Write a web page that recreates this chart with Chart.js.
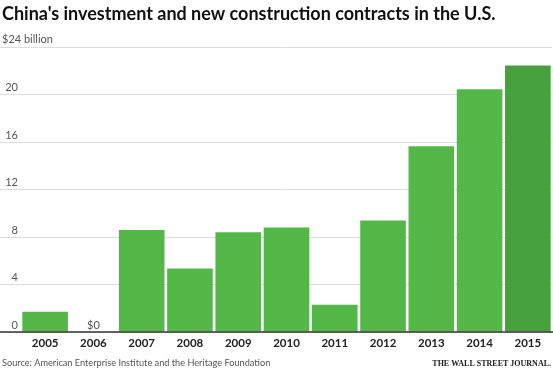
<!DOCTYPE html>
<html>
<head>
<meta charset="utf-8">
<script src="https://cdn.jsdelivr.net/npm/chart.js@4"></script>
<style>
  body { margin: 0; background: #fff; }
  canvas { display: block; }
</style>
</head>
<body>
<canvas id="graph" width="553" height="371"></canvas>
<script>
// China's investment in the U.S., $ billion
const years = ['2005', '2006', '2007', '2008', '2009', '2010', '2011', '2012', '2013', '2014', '2015'];
const investment = [1.7, 0, 8.6, 5.35, 8.4, 8.8, 2.3, 9.4, 15.65, 20.45, 22.45];
const yTicks = [0, 4, 8, 12, 16, 20, 24];

const titleText = "China's investment and new construction contracts in the U.S.";
const unitText = '$24 billion';
const sourceText = 'Source: American Enterprise Institute and the Heritage Foundation';
const brandText = 'THE WALL STREET JOURNAL.';

const green = '#53b848';
const darkGreen = '#46a13c';

Chart.defaults.font.family = 'Lato, "Open Sans", sans-serif';

// title, unit, footer, baseline and the "$0" note
const extras = {
  id: 'extras',
  afterDatasetsDraw(chart) {
    const c = chart.ctx;
    const y = chart.scales.y;
    const y0 = y.getPixelForValue(0);

    c.save();
    c.strokeStyle = '#333';
    c.lineWidth = 1.5;
    c.beginPath();
    c.moveTo(0, y0);
    c.lineTo(chart.width, y0);
    c.stroke();

    // zero label on the empty year
    const bar = chart.getDatasetMeta(0).data[1];
    c.fillStyle = '#555';
    c.font = '11px Lato';
    c.textAlign = 'center';
    c.textBaseline = 'middle';
    c.fillText('$0', bar.x, y0 - 7);
    c.restore();
  },
  afterDraw(chart) {
    const c = chart.ctx;
    c.save();
    c.textBaseline = 'alphabetic';
    c.textAlign = 'left';

    c.fillStyle = '#111';
    c.font = 'bold 18px Lato';
    c.fillText(titleText, 2, 20);

    c.fillStyle = '#555';
    c.font = '11px Lato';
    c.fillText(unitText, 2, 43);

    c.font = '9.2px Lato';
    c.fillText(sourceText, 2, 366);

    c.fillStyle = '#222';
    c.font = 'bold 8px "Liberation Serif"';
    c.textAlign = 'right';
    c.fillText(brandText, 551, 366);
    c.restore();
  }
};

new Chart(document.getElementById('graph'), {
  type: 'bar',
  data: {
    labels: years,
    datasets: [{
      data: investment,
      backgroundColor: years.map((y, i) => i === years.length - 1 ? darkGreen : green),
      borderWidth: 0,
      categoryPercentage: 1,
      barPercentage: 0.945
    }]
  },
  options: {
    responsive: false,
    animation: false,
    devicePixelRatio: 1,
    layout: { padding: { top: 47, bottom: 21, left: 0, right: 1 } },
    plugins: {
      legend: { display: false },
      tooltip: { enabled: false }
    },
    scales: {
      x: {
        grid: { display: false, drawTicks: false },
        border: { display: false },
        ticks: {
          color: '#222',
          font: { size: 11.5, weight: 'bold' },
          padding: 4,
          maxRotation: 0,
          autoSkip: false
        },
        afterFit(scale) { scale.height = 18; }
      },
      y: {
        min: 0,
        max: 24,
        afterBuildTicks(scale) { scale.ticks = yTicks.map(v => ({ value: v })); },
        grid: {
          color: '#dcdcdc',
          lineWidth: 1,
          drawTicks: true,
          tickLength: 21
        },
        border: { display: false },
        ticks: {
          color: '#555',
          font: { size: 11 },
          padding: -18,
          labelOffset: -7,
          callback: v => v === 24 ? '' : v
        },
        afterFit(scale) { scale.width = 21; }
      }
    }
  },
  plugins: [extras]
});
</script>
</body>
</html>
